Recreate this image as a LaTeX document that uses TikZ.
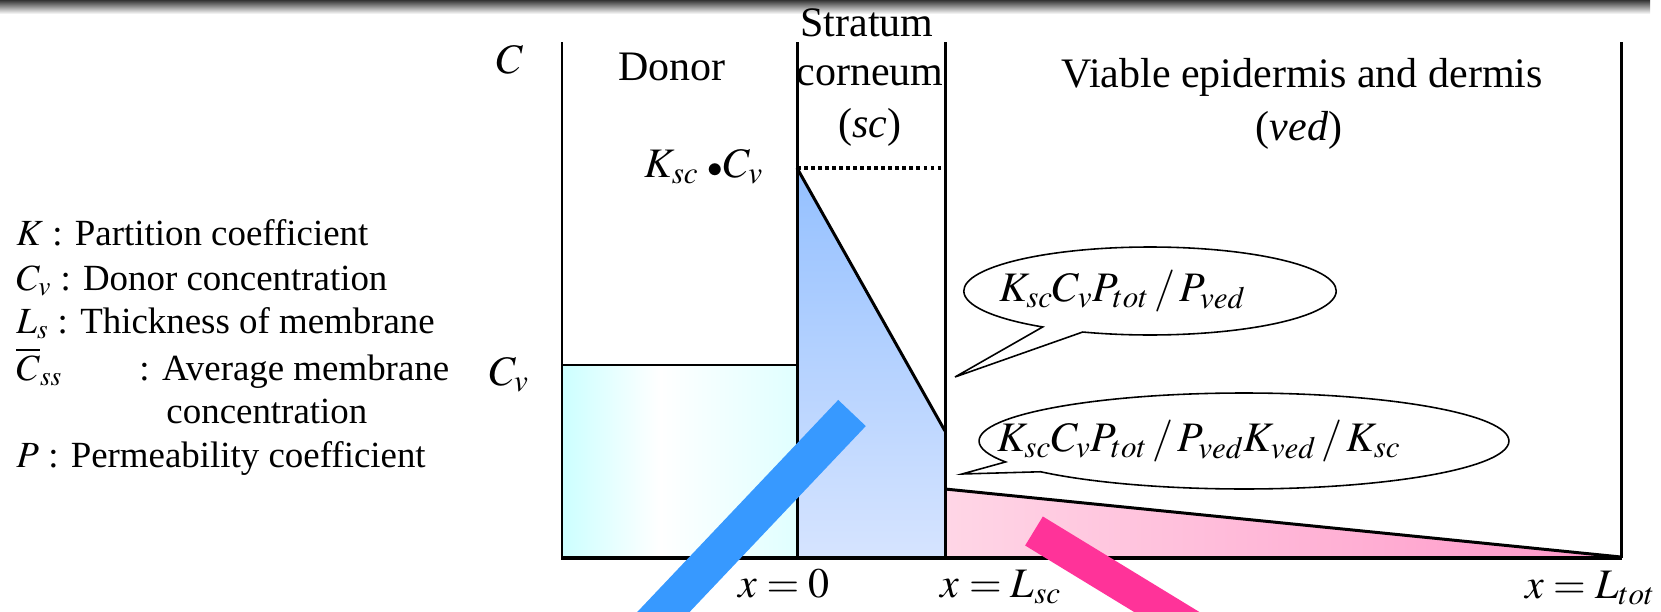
\documentclass[tikz,border=0pt]{standalone}
\usepackage{mathptmx}
\usepackage{fontspec}
\setmainfont{Liberation Serif}
\usetikzlibrary{shapes.callouts}
\definecolor{donorcyan}{RGB}{204,255,255}
\definecolor{donorcyanlt}{RGB}{224,255,255}
\definecolor{scbluetop}{RGB}{148,192,255}
\definecolor{scbluebot}{RGB}{214,228,255}
\definecolor{vedpinklt}{RGB}{255,214,230}
\definecolor{vedpink}{RGB}{255,150,200}
\definecolor{barblue}{RGB}{55,153,255}
\definecolor{barpink}{RGB}{255,51,153}
\newcommand{\mainsize}{\fontsize{23.9}{28}\selectfont}
\newcommand{\legsize}{\fontsize{21}{25}\selectfont}

\begin{document}
\begin{tikzpicture}[x=0.02cm,y=-0.02cm,line width=1.7pt,
  lbl/.style={font=\mainsize,inner sep=0pt,anchor=base},
  leg/.style={font=\legsize,inner sep=0pt,anchor=base west},
  bubble/.style={ellipse callout,draw,fill=white,line width=0.9pt,inner sep=0pt,
    font=\mainsize,callout pointer arc=14}]
\useasboundingbox (0,0) rectangle (1661,612);
% header shadow
\shade[top color=black!80,bottom color=white] (0,0) rectangle (1650,14);
% donor, stratum corneum, ved
\shade[left color=donorcyan,right color=white] (562,365) rectangle (660,558);
\shade[left color=white,right color=donorcyanlt] (660,365) rectangle (797,558);
\shade[top color=scbluetop,bottom color=scbluebot] (797,168) -- (945,431) -- (945,558) -- (797,558) -- cycle;
\shade[left color=vedpinklt,right color=vedpink] (945,489) -- (1621,557) -- (945,557) -- cycle;
% concentration profile
\draw (562,365) -- (797,365);
\draw (797,168) -- (945,431);
\draw (945,489) -- (1621,557);
\draw[dotted,line width=2pt] (797,168) -- (945,168);
% walls
\draw (797,42) -- (797,558);
\draw (945,42) -- (945,558);
\draw (562,42) -- (562,558);
\draw (1621,42) -- (1621,558);
\draw[line width=2.3pt] (561,558) -- (1622,558);
% labels
\node[lbl] (axisC) at (510,73) {$C$};
\node[lbl] (axisCv) at (509,385) {$C_v$};
\node[lbl] (donor) at (672,80) {Donor};
\node[lbl] (stratum) at (867,36) {Stratum};
\node[lbl] (corneum) at (870,85) {corneum};
\node[lbl] (scTag) at (870,137) {(\textit{sc})};
\node[lbl] (vedName) at (1302,87) {Viable epidermis and dermis};
\node[lbl] (vedTag) at (1299,140) {(\textit{ved})};
\node[lbl] (kscCv) at (704,177) {$K_{sc}\;{\scriptstyle\bullet}C_v$};
\node[lbl] (xZero) at (784,597) {$x=0$};
\node[lbl] (xLsc) at (1001,597) {$x=L_{sc}$};
\node[lbl] (xLtot) at (1590,598) {$x=L_{tot}$};
% callouts
\node[bubble,minimum width=7.45cm,minimum height=1.76cm,
  callout absolute pointer={(955,377)}] (bubbleTop) at (1150,291)
  {\makebox[0pt]{$K_{sc}C_vP_{tot}\,/\,P_{ved}$\hspace*{1.1cm}}};
\node[bubble,minimum width=10.6cm,minimum height=1.92cm,
  callout absolute pointer={(962,474)}] (bubbleBot) at (1244,441)
  {\makebox[0pt]{$K_{sc}C_vP_{tot}\,/\,P_{ved}K_{ved}\,/\,K_{sc}$\hspace*{1.8cm}}};
% legend
\node[leg] (legK) at (15,245) {$K$ : Partition coefficient};
\node[leg] (legCv) at (15,290) {$C_v$ : Donor concentration};
\node[leg] (legL) at (15,333) {$L_s$ : Thickness of membrane};
\node[leg] (legCss) at (15,380) {$\overline{C}_{ss}$};
\node[leg] (legAvg) at (138,380) {: Average membrane};
\node[leg] (legAvgB) at (165,423) {concentration};
\node[leg] (legP) at (15,467) {$P$ : Permeability coefficient};
% marker bars
\begin{scope}
\clip (0,0) rectangle (1661,612);
\draw[line width=0.76cm,barblue] (852,413) -- (580,700);
\draw[line width=0.68cm,barpink] (1034,531) -- (1311,700);
\end{scope}
\end{tikzpicture}
\end{document}
